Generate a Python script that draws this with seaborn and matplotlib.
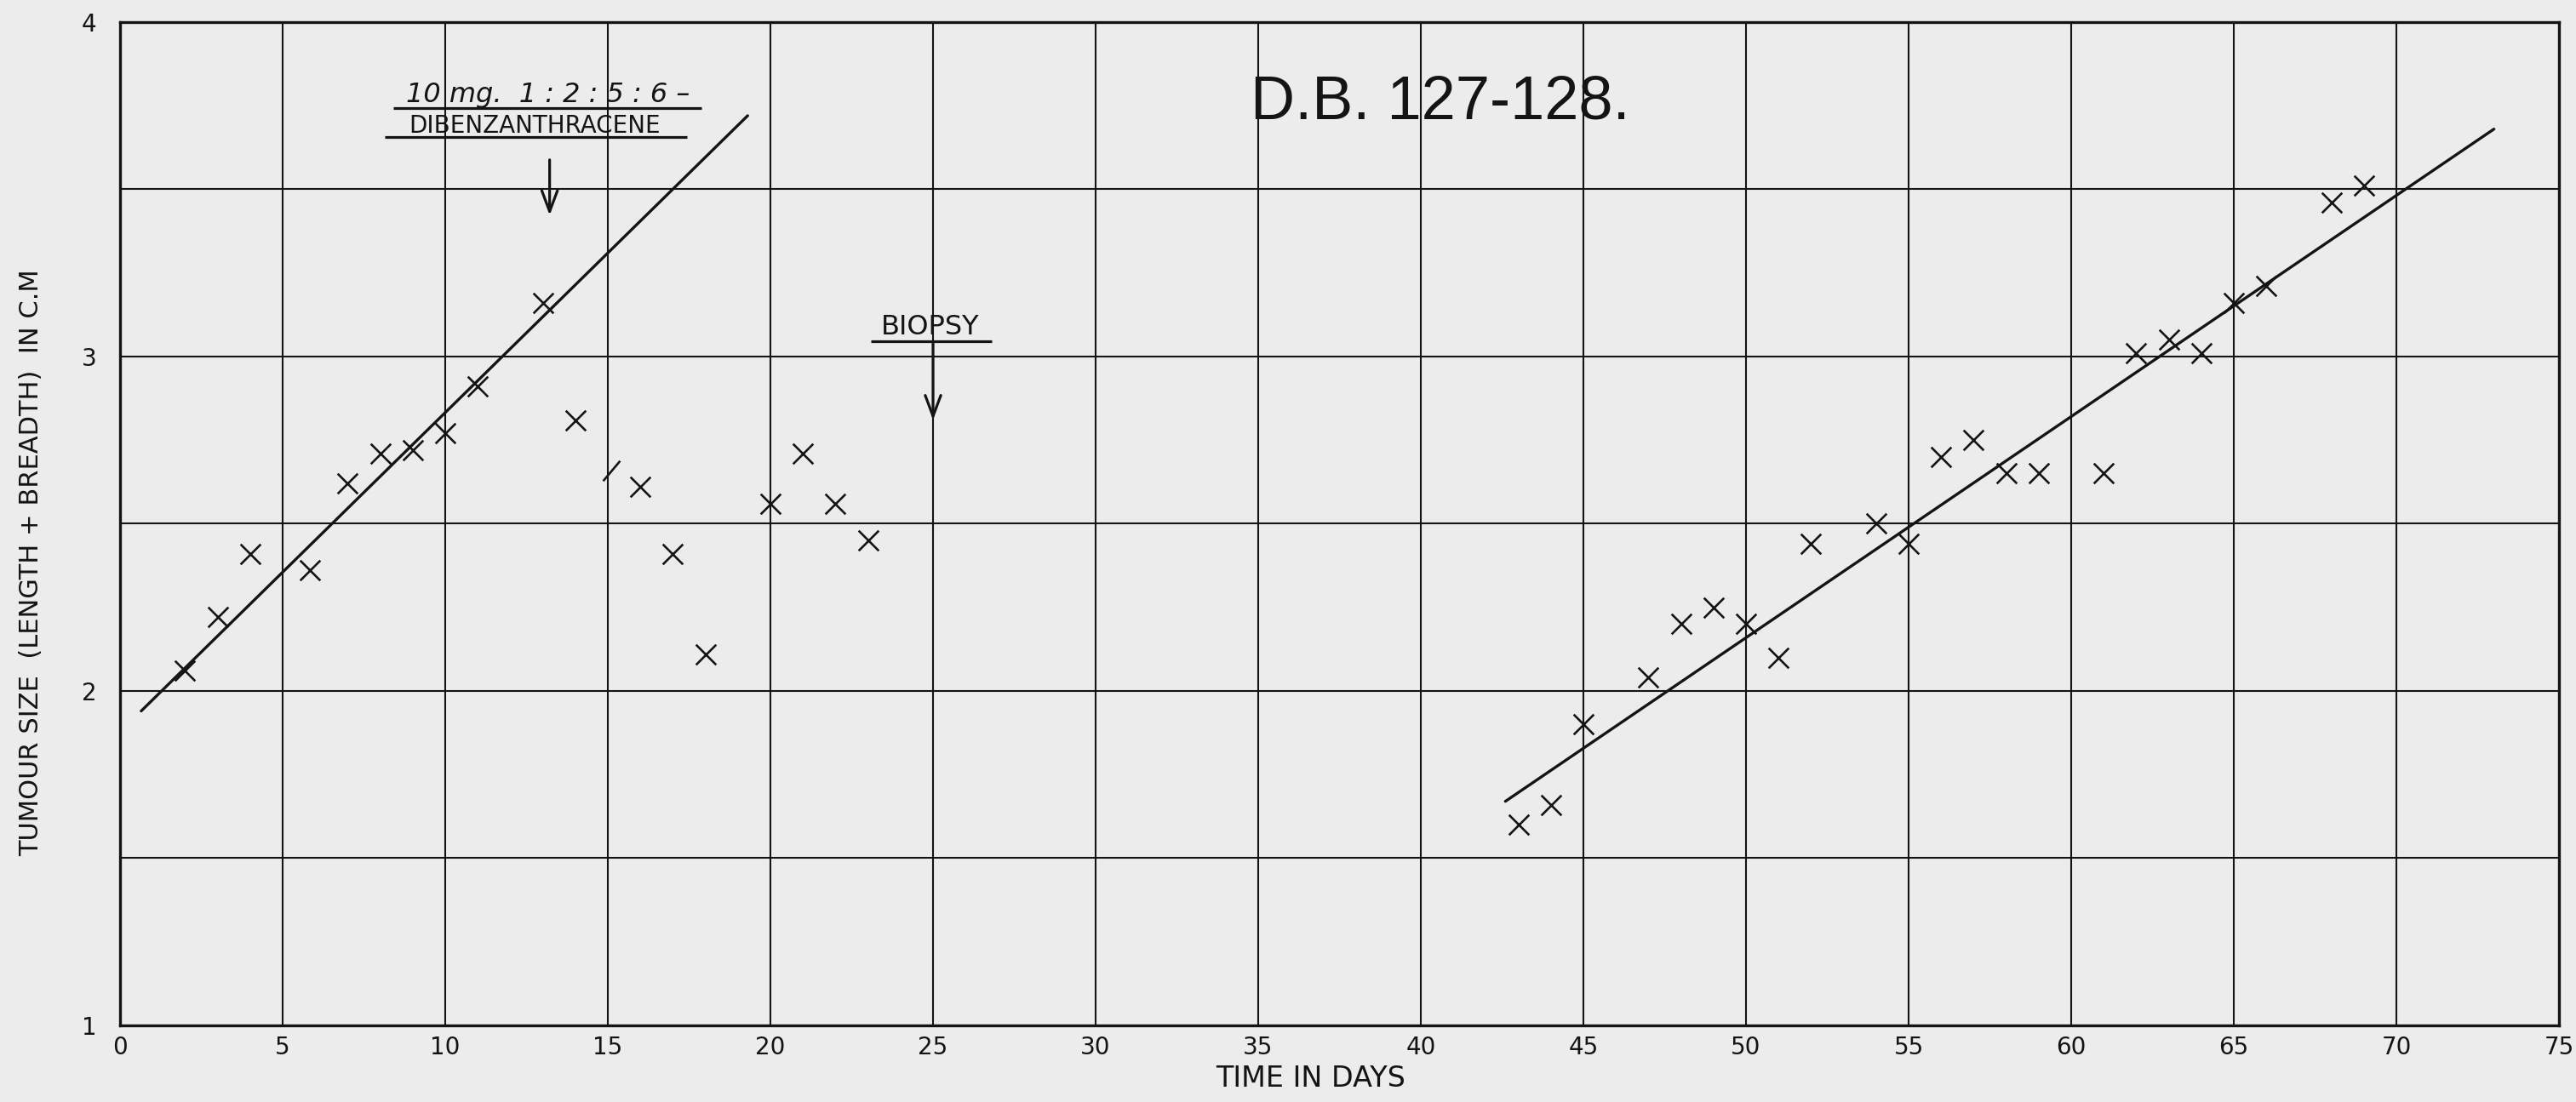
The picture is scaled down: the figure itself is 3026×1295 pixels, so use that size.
import matplotlib
matplotlib.use("Agg")
import matplotlib.pyplot as plt
import seaborn as sns
import pandas as pd

# ---------------- data ----------------
days_phase1 = [2, 3, 4, 5.85, 7, 8, 9, 10, 11, 13, 14, 16, 17, 18, 20, 21, 22, 23]
size_phase1 = [2.06, 2.22, 2.41, 2.36, 2.62, 2.71, 2.72, 2.77, 2.91, 3.16, 2.81,
               2.61, 2.41, 2.11, 2.56, 2.71, 2.56, 2.45]

days_phase2 = [43, 44, 45, 47, 48, 49, 50, 51, 52, 54, 55, 56, 57, 58, 59, 61,
               62, 63, 64, 65, 66, 68, 69]
size_phase2 = [1.60, 1.66, 1.90, 2.04, 2.20, 2.25, 2.20, 2.10, 2.44, 2.50, 2.44,
               2.70, 2.75, 2.65, 2.65, 2.65, 3.01, 3.05, 3.01, 3.16, 3.21, 3.46, 3.51]

slash_day = [15.1]
slash_size = [2.66]

fit1_days = [0.65, 19.3]
fit1_size = [1.94, 3.72]
fit2_days = [42.6, 73.0]
fit2_size = [1.67, 3.68]

x_ticks = list(range(0, 76, 5))
y_ticks = [1, 2, 3, 4]
y_minor = [1.5, 2.5, 3.5]

title_text = "D.B. 127-128."
dose_line1 = "10 mg.  1 : 2 : 5 : 6 \u2013"
dose_line2 = "DIBENZANTHRACENE"
biopsy_text = "BIOPSY"
x_label = "TIME IN DAYS"
y_label = "TUMOUR SIZE  (LENGTH + BREADTH)  IN C.M"

# ---------------- style ----------------
INK = "#141414"
PAPER = "#ececec"

sns.set_theme(style="white", rc={"figure.facecolor": PAPER, "axes.facecolor": PAPER})
plt.rcParams["font.family"] = ["DejaVu Sans"]

fig = plt.figure(figsize=(30.26, 12.95), dpi=100)
ax = fig.add_axes([0.0466, 0.0695, 0.9468, 0.9105])

df1 = pd.DataFrame({"day": days_phase1, "size": size_phase1})
df2 = pd.DataFrame({"day": days_phase2, "size": size_phase2})
f1 = pd.DataFrame({"day": fit1_days, "size": fit1_size})
f2 = pd.DataFrame({"day": fit2_days, "size": fit2_size})

sns.lineplot(data=f1, x="day", y="size", color=INK, lw=2.4, estimator=None,
             sort=False, ax=ax, zorder=4)
sns.lineplot(data=f2, x="day", y="size", color=INK, lw=2.4, estimator=None,
             sort=False, ax=ax, zorder=4)

sns.scatterplot(data=df1, x="day", y="size", marker="x", s=290, color=INK,
                linewidth=1.9, ax=ax, zorder=5)
sns.scatterplot(data=df2, x="day", y="size", marker="x", s=290, color=INK,
                linewidth=1.9, ax=ax, zorder=5)
ax.plot(slash_day, slash_size, ls="none", marker=[(-0.42, -0.5), (0.42, 0.5)],
        ms=17, mew=1.9, mec=INK, color=INK, zorder=5)

# ---------------- axes / grid ----------------
ax.set_xlim(0, 75)
ax.set_ylim(1, 4)
ax.set_xticks(x_ticks)
ax.set_xticklabels([str(t) for t in x_ticks])
ax.set_yticks(y_ticks)
ax.set_yticklabels([str(t) for t in y_ticks])
ax.set_yticks(y_minor, minor=True)
ax.grid(True, which="both", color=INK, lw=1.5)
ax.set_axisbelow(True)
ax.tick_params(axis="both", which="both", length=0)
ax.tick_params(axis="x", labelsize=20, pad=9, labelcolor=INK)
ax.tick_params(axis="y", labelsize=20, pad=20, labelcolor=INK)
for sp in ax.spines.values():
    sp.set_visible(True)
    sp.set_color(INK)
    sp.set_linewidth(2.4)

ax.set_xlabel(x_label, fontsize=24, color=INK, va="center")
ax.xaxis.set_label_coords(0.488, -0.053)
ax.set_ylabel(y_label, fontsize=22, color=INK, va="center")
ax.yaxis.set_label_coords(-0.0366, 0.461)

# ---------------- annotations ----------------
ax.text(40.6, 3.71, title_text, fontsize=52, color=INK, ha="center", va="baseline",
        family=["Liberation Sans", "DejaVu Sans"])

ax.text(13.16, 3.761, dose_line1, fontsize=23, color=INK, ha="center", va="baseline",
        style="italic")
ax.hlines(3.743, 8.41, 17.89, color=INK, lw=2.3)
ax.text(12.75, 3.670, dose_line2, fontsize=20, color=INK, ha="center", va="baseline")
ax.hlines(3.657, 8.15, 17.44, color=INK, lw=2.3)
ax.annotate("", xy=(13.21, 3.422), xytext=(13.21, 3.588),
            arrowprops=dict(arrowstyle="->,head_length=0.8,head_width=0.3",
                            color=INK, lw=2.3, mutation_scale=22,
                            shrinkA=0, shrinkB=0))

ax.text(24.9, 3.066, biopsy_text, fontsize=23, color=INK, ha="center", va="baseline")
ax.hlines(3.046, 23.08, 26.81, color=INK, lw=2.3)
ax.annotate("", xy=(25, 2.81), xytext=(25, 3.046),
            arrowprops=dict(arrowstyle="->,head_length=0.8,head_width=0.3",
                            color=INK, lw=2.3, mutation_scale=22,
                            shrinkA=0, shrinkB=0))

fig.savefig("out.png", dpi=100, facecolor=PAPER)
